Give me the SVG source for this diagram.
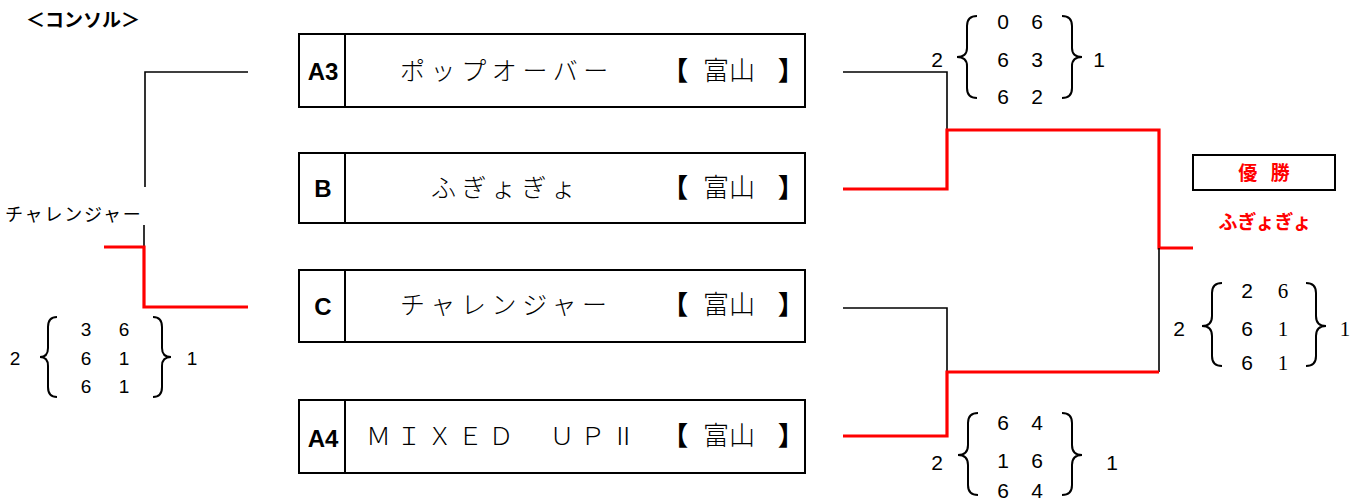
<svg xmlns="http://www.w3.org/2000/svg" width="1364" height="500" viewBox="0 0 1364 500">
<style>
.box{fill:#fff;stroke:#000;stroke-width:2}
.div{stroke:#000;stroke-width:2}
.lbl{font-family:"Liberation Sans","Noto Sans CJK JP",sans-serif;font-weight:bold;font-size:24px;text-anchor:middle;fill:#000}
.name{font-family:"Noto Sans CJK JP",sans-serif;font-size:25px;font-weight:300;letter-spacing:5.6px;fill:#000}
.pref{font-family:"Noto Sans CJK JP",sans-serif;font-size:26px;font-weight:300;fill:#000}
.brk{font-family:"Noto Sans CJK JP",sans-serif;font-size:26px;font-weight:900;fill:#000}
.bk{fill:none;stroke:#000;stroke-width:1.6}
.rd{fill:none;stroke:#f00;stroke-width:3.2}
.br{fill:none;stroke:#000;stroke-width:2}
.sc{font-family:"Liberation Sans","Noto Sans CJK JP",sans-serif;font-size:21px;text-anchor:middle;fill:#000}
.scs{font-family:"Liberation Serif",serif;font-size:21px;text-anchor:middle;fill:#000}
.sl{font-size:19px}
.title{font-family:"Noto Sans CJK JP",sans-serif;font-size:19px;font-weight:bold;fill:#000}
.win{font-family:"Noto Sans CJK JP",sans-serif;font-size:19px;font-weight:bold;fill:#f00;text-anchor:middle}
</style>

<text class="title" x="26" y="27">＜コンソル＞</text>

<g id="connectors">
  <path class="bk" d="M248,72 H145 V187"/>
  <path class="bk" d="M144,225 V247"/>
  <path class="rd" d="M104,247 H144 V307 H248"/>
  <path class="bk" d="M843,72 H947 V130"/>
  <path class="rd" d="M843,189 H947 V130 H1159 V248 H1193"/>
  <path class="bk" d="M843,308 H947 V372"/>
  <path class="bk" d="M1159,248 V372"/>
  <path class="rd" d="M843,436 H947 V372 H1159"/>
</g>

<g id="node-a3">
  <rect class="box" x="299" y="34" width="506" height="73"/>
  <line class="div" x1="345" y1="34" x2="345" y2="107"/>
  <text class="lbl" x="323" y="80">A3</text>
  <text class="name" x="400" y="80">ポップオーバー</text>
  <text class="brk" x="662" y="80">【</text>
  <text class="pref" x="703" y="80">富山</text>
  <text class="brk" x="778" y="80">】</text>
</g>

<g id="node-b">
  <rect class="box" x="299" y="153" width="506" height="70"/>
  <line class="div" x1="345" y1="153" x2="345" y2="223"/>
  <text class="lbl" x="323" y="197">B</text>
  <text class="name" x="431" y="197">ふぎょぎょ</text>
  <text class="brk" x="662" y="197">【</text>
  <text class="pref" x="703" y="197">富山</text>
  <text class="brk" x="778" y="197">】</text>
</g>

<g id="node-c">
  <rect class="box" x="299" y="270" width="506" height="72"/>
  <line class="div" x1="345" y1="270" x2="345" y2="342"/>
  <text class="lbl" x="323" y="315">C</text>
  <text class="name" x="400" y="314">チャレンジャー</text>
  <text class="brk" x="662" y="314">【</text>
  <text class="pref" x="703" y="314">富山</text>
  <text class="brk" x="778" y="314">】</text>
</g>

<g id="node-a4">
  <rect class="box" x="299" y="400" width="506" height="73"/>
  <line class="div" x1="345" y1="400" x2="345" y2="473"/>
  <text class="lbl" x="323" y="447">A4</text>
  <text class="name" x="366" y="445">ＭＩＸＥＤ　ＵＰⅡ</text>
  <text class="brk" x="662" y="445">【</text>
  <text class="pref" x="703" y="445">富山</text>
  <text class="brk" x="778" y="445">】</text>
</g>

<g id="node-challenger-label">
  <text x="5" y="221" style="font-family:'Noto Sans CJK JP',sans-serif;font-size:18px;letter-spacing:1.8px;fill:#000">チャレンジャー</text>
</g>

<g id="node-winner">
  <rect x="1193" y="155" width="142" height="35" fill="#fff" stroke="#000" stroke-width="2"/>
  <text class="win" x="1264" y="180" style="word-spacing:9px">優 勝</text>
  <text class="win" x="1265" y="229">ふぎょぎょ</text>
</g>

<g id="score-top">
  <text class="sc" x="937" y="67">2</text>
  <path class="br" d="M977,16 Q967,16 967,26 V48 Q967,57 957,57 Q967,57 967,66 V88 Q967,98 977,98"/>
  <text class="sc" x="1003" y="29">0</text><text class="sc" x="1037" y="29">6</text>
  <text class="sc" x="1003" y="67">6</text><text class="sc" x="1037" y="67">3</text>
  <text class="sc" x="1003" y="104">6</text><text class="sc" x="1037" y="104">2</text>
  <path class="br" d="M1062,16 Q1072,16 1072,26 V48 Q1072,57 1082,57 Q1072,57 1072,66 V88 Q1072,98 1062,98"/>
  <text class="sc" x="1099" y="67">1</text>
</g>

<g id="score-left">
  <text class="sc sl" x="15" y="365">2</text>
  <path class="br" d="M57,317 Q48,317 48,327 V348 Q48,357 40,357 Q48,357 48,366 V387 Q48,397 57,397"/>
  <text class="sc sl" x="86" y="336">3</text><text class="sc sl" x="124" y="336">6</text>
  <text class="sc sl" x="86" y="365">6</text><text class="sc sl" x="124" y="365">1</text>
  <text class="sc sl" x="86" y="393">6</text><text class="sc sl" x="124" y="393">1</text>
  <path class="br" d="M153,317 Q162,317 162,327 V348 Q162,357 171,357 Q162,357 162,366 V387 Q162,397 153,397"/>
  <text class="sc sl" x="192" y="365">1</text>
</g>

<g id="score-final">
  <text class="sc" x="1179" y="336">2</text>
  <path class="br" d="M1222,283 Q1212,283 1212,293 V316 Q1212,326 1202,326 Q1212,326 1212,336 V356 Q1212,366 1222,366"/>
  <text class="sc" x="1247" y="298">2</text><text class="scs" x="1283" y="298">6</text>
  <text class="sc" x="1247" y="336">6</text><text class="scs" x="1283" y="336">1</text>
  <text class="sc" x="1247" y="370">6</text><text class="scs" x="1283" y="370">1</text>
  <path class="br" d="M1306,283 Q1316,283 1316,293 V316 Q1316,326 1326,326 Q1316,326 1316,336 V356 Q1316,366 1306,366"/>
  <text class="scs" x="1345" y="336">1</text>
</g>

<g id="score-bottom">
  <text class="sc" x="937" y="470">2</text>
  <path class="br" d="M978,413 Q968,413 968,423 V445 Q968,455 958,455 Q968,455 968,465 V485 Q968,495 978,495"/>
  <text class="sc" x="1003" y="430">6</text><text class="sc" x="1037" y="430">4</text>
  <text class="sc" x="1003" y="468">1</text><text class="sc" x="1037" y="468">6</text>
  <text class="sc" x="1003" y="498">6</text><text class="sc" x="1037" y="498">4</text>
  <path class="br" d="M1062,413 Q1072,413 1072,423 V445 Q1072,455 1082,455 Q1072,455 1072,465 V485 Q1072,495 1062,495"/>
  <text class="sc" x="1112" y="470">1</text>
</g>
</svg>
